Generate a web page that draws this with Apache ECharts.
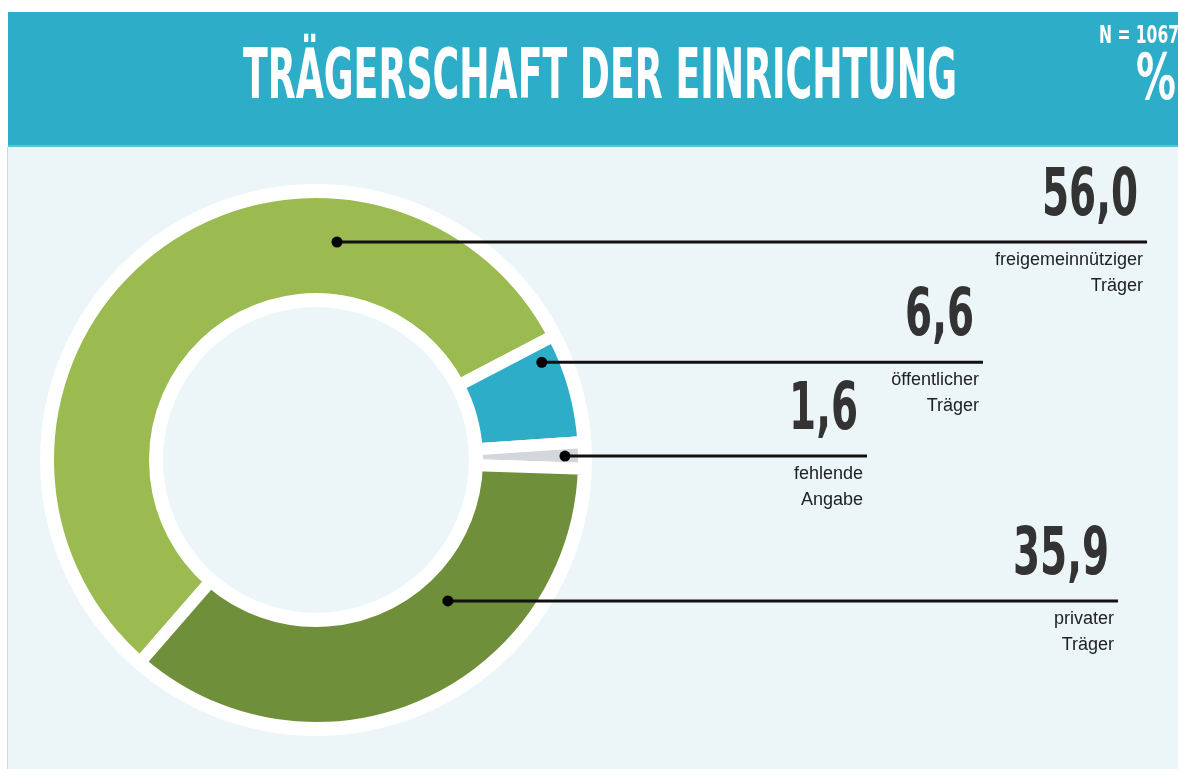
<!DOCTYPE html>
<html lang="de">
<head>
<meta charset="UTF-8">
<title>Trägerschaft der Einrichtung</title>
<style>
  html, body { margin: 0; padding: 0; background: #fff; }
  #chart { width: 1178px; height: 769px; }
</style>
</head>
<body>
<div id="chart"></div>
<script src="https://cdn.jsdelivr.net/npm/echarts@6/dist/echarts.min.js"></script>
<script>
// data
const categories = ['freigemeinnütziger\nTräger', 'öffentlicher\nTräger', 'fehlende\nAngabe', 'privater\nTräger'];
const shares = [56.0, 6.6, 1.6, 35.9];
const colors = ['#9bbb51', '#2eadc9', '#d3d7db', '#6f8f3b'];
const titleText = 'TRÄGERSCHAFT DER EINRICHTUNG';
const sampleText = 'N = 1067';
const unitText = '%';

// layout
const center = [316, 460];
// start of each connector: [angle deg, counter-clockwise from 3 o'clock; distance from centre px]
const anchors = [[84.5, 219], [23.4, 246], [0.9, 249], [-46.9, 193]];
// right end of each connector
const lineEnds = [1147, 983, 867, 1118];

const narrow = '"Liberation Sans Narrow", "DejaVu Sans Condensed", "Roboto Condensed", sans-serif';
const plain = '"Liberation Sans", Arial, sans-serif';

function anchorPoint(i) {
    const a = anchors[i][0] * Math.PI / 180;
    return [center[0] + anchors[i][1] * Math.cos(a), center[1] - anchors[i][1] * Math.sin(a)];
}

// squeeze a text to a given width (the original uses a very condensed display face)
function fitScale(text, font, width) {
    const ctx = document.createElement('canvas').getContext('2d');
    ctx.font = font;
    return width / ctx.measureText(text).width;
}

function fmt(v) {
    return v.toFixed(1).replace('.', ',');
}

const titleFont = 'bold 70px ' + narrow;
const nFont = 'bold 25px ' + narrow;
const pctFont = 'bold 64px ' + narrow;
const valueFont = 'bold 66px ' + narrow;
const catFont = '18px ' + plain;
// one squeeze factor for all big numbers, taken from the widest one
const valueScale = fitScale('56,0', valueFont, 96);

let myChart = echarts.init(document.getElementById('chart'));

function headerText(text, font, x, y, align, width) {
    return {
        type: 'text', z: 1, silent: true, x: x, y: y,
        scaleX: fitScale(text, font, width),
        style: {text: text, font: font, fill: '#fff', align: align, verticalAlign: 'middle',
            textAlign: align, textVerticalAlign: 'middle'}
    };
}

// connector with dot, big number and category name for one slice
function renderCallout(params, api) {
    let i = params.dataIndex;
    let s = anchorPoint(i);
    let end = lineEnds[i];
    return {
        type: 'group',
        children: [
            {type: 'line', shape: {x1: s[0], y1: s[1], x2: end, y2: s[1]},
                style: {stroke: '#111', lineWidth: 3}},
            {type: 'circle', shape: {cx: s[0], cy: s[1], r: 5.5}, style: {fill: '#000'}},
            {type: 'text', x: end - 9, y: s[1] - 44, scaleX: valueScale,
                style: {text: fmt(api.value(0)), font: valueFont, fill: '#333',
                    align: 'right', verticalAlign: 'middle', textAlign: 'right', textVerticalAlign: 'middle'}},
            {type: 'text', x: end - 4, y: s[1] + 5,
                style: {text: categories[i], font: catFont, lineHeight: 26, fill: '#222',
                    align: 'right', verticalAlign: 'top', textAlign: 'right', textVerticalAlign: 'top'}}
        ]
    };
}

let option = {
    animation: false,
    graphic: [
        {type: 'rect', z: 0, silent: true, shape: {x: 8, y: 146, width: 1170, height: 623}, style: {fill: '#ecf5f7'}},
        {type: 'rect', z: 0, silent: true, shape: {x: 8, y: 12, width: 1170, height: 134}, style: {fill: '#2eadc9'}},
        {type: 'rect', z: 0, silent: true, shape: {x: 8, y: 145, width: 1170, height: 2}, style: {fill: '#5fc0d6'}},
        {type: 'rect', z: 0, silent: true, shape: {x: 7, y: 147, width: 1, height: 622}, style: {fill: '#d2d8da'}},
        headerText(titleText, titleFont, 600, 80, 'center', 714),
        headerText(sampleText, nFont, 1179, 36, 'right', 80),
        headerText(unitText, pctFont, 1156, 82, 'center', 40)
    ],
    series: [
        // white ring behind the donut
        {
            type: 'pie', silent: true, z: 1, center: center, radius: [153, 276],
            label: {show: false}, labelLine: {show: false},
            itemStyle: {color: '#fff'},
            data: [{value: 1}]
        },
        {
            type: 'pie', silent: true, z: 2, center: center, radius: [161, 268],
            startAngle: 229, clockwise: true,
            itemStyle: {borderColor: '#fff', borderWidth: 12},
            label: {show: false}, labelLine: {show: false},
            data: shares.map(function (v, i) {
                return {value: v, name: categories[i], itemStyle: {color: colors[i]}};
            })
        },
        {
            type: 'custom', coordinateSystem: 'none', silent: true, z: 10,
            renderItem: renderCallout,
            data: shares
        }
    ]
};

myChart.setOption(option);
</script>
</body>
</html>
